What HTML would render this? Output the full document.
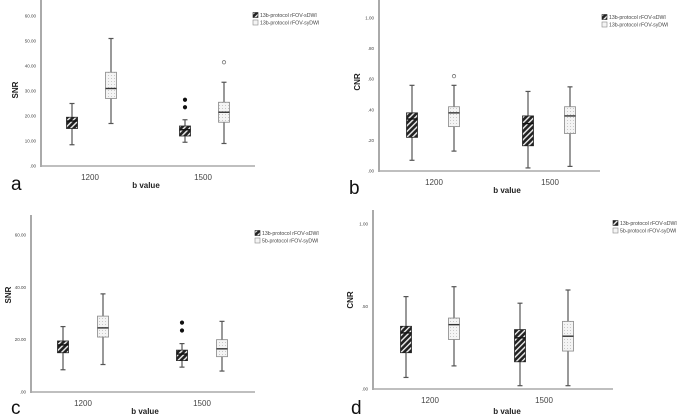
<!DOCTYPE html>
<html><head><meta charset="utf-8"><style>
html,body{margin:0;padding:0;background:#fff;}
svg{display:block;font-family:"Liberation Sans",sans-serif;}
</style></head><body>
<svg id="fig" width="685" height="416" viewBox="0 0 685 416">
<defs>
<pattern id="hatch" patternUnits="userSpaceOnUse" width="4" height="4" patternTransform="rotate(45)">
<rect width="4" height="4" fill="#222"/><rect width="1.4" height="4" fill="#eee"/>
</pattern>
<pattern id="dots" patternUnits="userSpaceOnUse" width="3" height="3">
<rect width="3" height="3" fill="#f4f4f4"/><rect width="1" height="1" fill="#c8c8c8"/>
</pattern>
</defs>
</svg>
<script>
const NS="http://www.w3.org/2000/svg";
const svg=document.getElementById('fig');
// categories & series names
const categories=["1200","1500"];
// [min, q1, median, q3, max] per series per category
const aSDWI=[[8.5,15,18,19.5,25],[9.5,12,14.5,16,18.5]];
const aSYDWI=[[17,27,31,37.5,51],[9,17.5,21.5,25.5,33.5]];
const aOutS=[[],[23.5,26.5]];
const aOutY=[[],[41.5]];
const aTicks=[0,10,20,30,40,50,60];
const aTickLabels=[".00","10.00","20.00","30.00","40.00","50.00","60.00"];

const bSDWI=[[0.07,0.22,0.34,0.38,0.56],[0.02,0.165,0.31,0.36,0.52]];
const bSYDWI=[[0.13,0.29,0.38,0.42,0.56],[0.03,0.245,0.36,0.42,0.55]];
const bOutS=[[],[]];
const bOutY=[[0.62],[]];
const bTicks=[0,0.2,0.4,0.6,0.8,1.0];
const bTickLabels=[".00",".20",".40",".60",".80","1.00"];

const cSDWI=[[8.5,15,18,19.5,25],[9.5,12,14.5,16,18.5]];
const cSYDWI=[[10.5,21,24.5,29,37.5],[8,13.5,16.5,20,27]];
const cOutS=[[],[23.5,26.5]];
const cOutY=[[],[]];
const cTicks=[0,20,40,60];
const cTickLabels=[".00","20.00","40.00","60.00"];

const dSDWI=[[0.07,0.22,0.34,0.38,0.56],[0.02,0.165,0.31,0.36,0.52]];
const dSYDWI=[[0.14,0.30,0.39,0.43,0.62],[0.02,0.23,0.32,0.41,0.60]];
const dOutS=[[],[]];
const dOutY=[[],[]];
const dTicks=[0,0.5,1.0];
const dTickLabels=[".00",".50","1.00"];

function el(tag,attrs,parent,text){
  const e=document.createElementNS(NS,tag);
  for(const k in attrs)e.setAttribute(k,attrs[k]);
  if(text!==undefined)e.textContent=text;
  (parent||svg).appendChild(e);return e;
}
function panel(p){
  const g=el('g',{},svg);
  
  
  const y=v=>p.y0-(v-p.vmin)/(p.vmax-p.vmin)*(p.y0-p.y1);
  // axes
  const ax=el('line',{x1:p.ax,y1:p.top,x2:p.ax,y2:p.y0+1,stroke:'#aaa','stroke-width':2},g);
  
  
  const xx=el('line',{x1:p.ax,y1:p.y0,x2:p.xend,y2:p.y0,stroke:'#aaa','stroke-width':1.5},g);
  
  
  p.ticks.forEach((t,i)=>{
    const tl=el('text',{x:p.ax-5,y:y(t)+1.5,'font-size':4.5,'text-anchor':'end',fill:'#444'},g,p.tickLabels[i]);
    
    
  });
  categories.forEach((c,i)=>{
    const t=el('text',{x:p.cx[i],y:p.y0+14,'font-size':8,'text-anchor':'middle',fill:'#444'},g,c);
    
    
  });
  const series=[[p.s,p.outS,'url(#hatch)','#222',-1,'filled'],[p.sy,p.outY,'url(#dots)','#888',1,'open']];
  series.forEach((s,si)=>{
    categories.forEach((c,i)=>{
      const d=s[0][i];const cx=p.cx[i]+s[4]*p.off[si];const w=11;
      const wh=el('line',{x1:cx,y1:y(d[0]),x2:cx,y2:y(d[4]),stroke:'#555','stroke-width':1.2},g);
      
      
      [d[0],d[4]].forEach(v=>{
        const cap=el('line',{x1:cx-2.5,y1:y(v),x2:cx+2.5,y2:y(v),stroke:'#555','stroke-width':1.2},g);
        
        
      });
      const b=el('rect',{x:cx-w/2,y:y(d[3]),width:w,height:y(d[1])-y(d[3]),fill:s[2],stroke:s[3],'stroke-width':0.8},g);
      
      
      const m=el('line',{x1:cx-w/2,y1:y(d[2]),x2:cx+w/2,y2:y(d[2]),stroke:si?'#333':'#111','stroke-width':1.4},g);
      
      
      s[1][i].forEach(v=>{
        const o=el('circle',{cx:cx,cy:y(v),r:1.7,fill:s[5]=='filled'?'#111':'#fff',stroke:s[5]=='filled'?'#111':'#777','stroke-width':0.8},g);
        
        
      });
    });
  });
  // legend
  const lg=el('g',{},g);
  
  
  [['url(#hatch)','#222',p.leg[0]],['#f4f4f4','#888',p.leg[1]]].forEach((L,i)=>{
    const ly=p.ly+i*7.5;
    el('rect',{x:p.lx,y:ly-4.5,width:5,height:5,fill:L[0],stroke:L[1],'stroke-width':0.6},lg);
    const t=el('text',{x:p.lx+7,y:ly,'font-size':5.2,fill:'#444'},lg,L[2]);
    
    
  });
  const yt=el('text',{x:0,y:0,'font-size':8,'font-weight':'bold','text-anchor':'middle',fill:'#222',transform:`translate(${p.ylx},${p.yly}) rotate(-90)`},g,p.ylabel);
  
  
  const xt=el('text',{x:p.xlx,y:p.xly,'font-size':8,'font-weight':'bold','text-anchor':'middle',fill:'#222'},g,'b value');
  
  
  const pl=el('text',{x:p.plx,y:p.ply,'font-size':19,fill:'#111'},g,p.id);
  
  
}
const L13s="13b-protocol rFOV-sDWI",L13y="13b-protocol rFOV-syDWI",L5y="5b-protocol rFOV-syDWI";
panel({id:'a',ax:41,top:0,y0:166,y1:16,vmin:0,vmax:60,xend:255,cx:[90,203],off:[18,21],s:aSDWI,sy:aSYDWI,outS:aOutS,outY:aOutY,ticks:aTicks,tickLabels:aTickLabels,leg:[L13s,L13y],lx:253,ly:17,ylabel:'SNR',ylx:18,yly:90,xlx:146,xly:188,plx:11,ply:190});
panel({id:'b',ax:379,top:0,y0:171,y1:18,vmin:0,vmax:1,xend:600,cx:[434,550],off:[22,20],s:bSDWI,sy:bSYDWI,outS:bOutS,outY:bOutY,ticks:bTicks,tickLabels:bTickLabels,leg:[L13s,L13y],lx:602,ly:19,ylabel:'CNR',ylx:360,yly:82,xlx:507,xly:193,plx:349,ply:194});
panel({id:'c',ax:31,top:215,y0:392,y1:235,vmin:0,vmax:60,xend:255,cx:[83,202],off:[20,20],s:cSDWI,sy:cSYDWI,outS:cOutS,outY:cOutY,ticks:cTicks,tickLabels:cTickLabels,leg:[L13s,L5y],lx:255,ly:235,ylabel:'SNR',ylx:11,yly:295,xlx:145,xly:414,plx:11,ply:414});
panel({id:'d',ax:373,top:210,y0:389,y1:224,vmin:0,vmax:1,xend:613,cx:[430,544],off:[24,24],s:dSDWI,sy:dSYDWI,outS:dOutS,outY:dOutY,ticks:dTicks,tickLabels:dTickLabels,leg:[L13s,L5y],lx:613,ly:225,ylabel:'CNR',ylx:353,yly:300,xlx:507,xly:414,plx:351,ply:414});
</script>
</body></html>
